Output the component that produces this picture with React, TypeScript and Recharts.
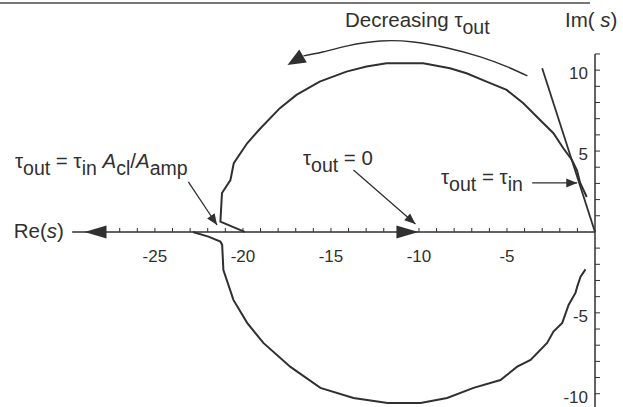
import React from 'react';
import { ComposedChart, Line, XAxis, YAxis, ReferenceLine, ReferenceDot } from 'recharts';

// Root-locus branches in the s-plane (Re, Im)
const upperRe = [-19.9, -21.28, -21.19, -20.71, -20.52, -19.76, -19.0, -17.9, -16.96, -15.64, -14.12, -12.98, -11.84, -9.76, -8.24, -7.3, -6.16, -5.02, -4.07, -3.12, -2.36, -1.8, -1.31, -1.03, -0.84, -0.47];
const upperIm = [0, 0.64, 2.41, 3.21, 4.25, 5.48, 6.41, 7.65, 8.47, 9.29, 9.91, 10.22, 10.43, 10.43, 10.12, 9.81, 9.29, 8.78, 7.95, 6.92, 6.1, 5.17, 4.45, 3.83, 3.03, 2.16];
const lowerRe = [-22.84, -21.96, -21.28, -21.18, -21.11, -20.54, -19.76, -18.84, -17.3, -15.6, -13.72, -11.78, -9.91, -8.4, -6.9, -5.37, -4.42, -3.66, -2.72, -2.36, -1.86, -1.5, -1.11, -1.01, -0.82, -0.54];
const lowerIm = [0, -0.29, -0.6, -0.8, -2.35, -4.2, -5.62, -6.86, -8.34, -9.64, -10.26, -10.57, -10.57, -10.26, -9.64, -9.15, -8.33, -7.91, -6.86, -6.16, -5.62, -4.51, -3.77, -3.38, -2.76, -2.31];
const asymRe = [0, -3.0];
const asymIm = [0, 10.12];

// "Decreasing tau_out" sweep
const sweepRe = [-16.56, -15.48, -14.06, -12.19, -10.31, -8.38, -6.51, -4.97, -3.84];
const sweepIm = [10.88, 11.12, 11.5, 11.8, 11.74, 11.37, 10.82, 10.2, 9.64];

const xMinorTicks = [-27, -26, -25, -24, -23, -22, -21, -20, -19, -18, -17, -16, -15, -14, -13, -12, -11, -10, -9, -8, -7, -6, -5, -4, -3, -2, -1];
const xTickLabels = [-25, -20, -15, -10, -5];
const yTicks = [-10, -9, -8, -7, -6, -5, -4, -3, -2, -1, 1, 2, 3, 4, 5, 6, 7, 8, 9, 10, 11];
const yTickLabels = [-10, -5, 5, 10];

const toPoints = (re: number[], im: number[]) => re.map((r, i) => ({ re: r, im: im[i] }));

const upperData = toPoints(upperRe, upperIm);
const lowerData = toPoints(lowerRe, lowerIm);
const asymData = toPoints(asymRe, asymIm);
const sweepData = toPoints(sweepRe, sweepIm);

const INK = '#303030';
const FONT = '"Liberation Sans", Arial, Helvetica, sans-serif';
const MAIN = 20.5;
const SUB = 19.5;
const DROP = 7.5;

type Seg = { t: string; sub?: boolean; it?: boolean };

const tau = (s: string): Seg[] => [{ t: 'τ' }, { t: s, sub: true }];

const labelSegs = {
  sweep: [{ t: 'Decreasing τ' }, { t: 'out', sub: true }] as Seg[],
  im: [{ t: 'Im( ' }, { t: 's', it: true }, { t: ')' }] as Seg[],
  re: [{ t: 'Re(' }, { t: 's', it: true }, { t: ')' }] as Seg[],
  ratio: [
    ...tau('out'), { t: ' = ' }, ...tau('in'), { t: ' ' },
    { t: 'A', it: true }, { t: 'cl', sub: true }, { t: '/' }, { t: 'A', it: true }, { t: 'amp', sub: true },
  ] as Seg[],
  zero: [...tau('out'), { t: ' = 0' }] as Seg[],
  equal: [...tau('out'), { t: ' = ' }, ...tau('in')] as Seg[],
};

const Arrowhead = ({ cx, cy, angle, len, half }: any) => {
  const a = (angle * Math.PI) / 180;
  const c = Math.cos(a);
  const s = Math.sin(a);
  const pt = (u: number, v: number) => `${cx + u * c - v * s},${cy + u * s + v * c}`;
  return <polygon points={`${pt(0, 0)} ${pt(-len, -half)} ${pt(-len, half)}`} fill={INK} />;
};

const arrow = (angle: number, len: number, half: number) => (p: any) => (
  <Arrowhead cx={p.cx} cy={p.cy} angle={angle} len={len} half={half} />
);

// text with lowered subscripts; baseline shifts are tracked between runs
const richText = (segs: Seg[], anchor: 'start' | 'end' = 'start') => (p: any) => {
  let level = 0;
  return (
    <text x={p.cx} y={p.cy} fill={INK} fontFamily={FONT} fontSize={MAIN} textAnchor={anchor}>
      {segs.map((s, i) => {
        const target = s.sub ? DROP : 0;
        const dy = target - level;
        level = target;
        return (
          <tspan key={i} dy={dy || undefined} fontSize={s.sub ? SUB : MAIN} fontStyle={s.it ? 'italic' : undefined}>
            {s.t}
          </tspan>
        );
      })}
    </text>
  );
};

const YTick = (props: any) => {
  const { x, y, payload } = props;
  if (!yTickLabels.includes(payload.value)) return <g />;
  return (
    <text x={x - 12} y={y + 9} fill={INK} fontFamily={FONT} fontSize={17} textAnchor="end">
      {payload.value}
    </text>
  );
};

export default function App() {
  return (
    <div style={{ position: 'fixed', left: 0, top: 0, width: 623, height: 407, background: '#fff' }}>
      <div style={{ position: 'absolute', left: 0, top: 2, width: 590, height: 2, background: '#777' }} />
      <ComposedChart width={623} height={407} margin={{ top: 20, right: 0, bottom: 0, left: 0 }}>
        <XAxis dataKey="re" type="number" domain={[-33.8, 0]} hide />
        <YAxis
          type="number"
          orientation="right"
          width={28}
          domain={[-10.82, 13.1]}
          ticks={yTicks}
          interval={0}
          axisLine={false}
          tickSize={5}
          tickMargin={0}
          tickLine={{ stroke: INK, strokeWidth: 1 }}
          tick={<YTick />}
        />

        {/* axes */}
        <ReferenceLine segment={[{ x: -29.7, y: 0 }, { x: 0, y: 0 }]} stroke={INK} strokeWidth={1.5} />
        <ReferenceLine segment={[{ x: 0, y: -10.82 }, { x: 0, y: 11 }]} stroke={INK} strokeWidth={1.5} />
        {xMinorTicks.map((t) => (
          <ReferenceDot
            key={`xt${t}`}
            x={t}
            y={0}
            r={0}
            shape={(p: any) => <line x1={p.cx} y1={p.cy - 4} x2={p.cx} y2={p.cy} stroke={INK} strokeWidth={1} />}
          />
        ))}
        {xTickLabels.map((t) => (
          <ReferenceDot
            key={`xl${t}`}
            x={t}
            y={0}
            r={0}
            shape={(p: any) => (
              <text x={p.cx} y={p.cy + 30} fill={INK} fontFamily={FONT} fontSize={17} textAnchor="middle">
                {t}
              </text>
            )}
          />
        ))}
        <ReferenceDot x={-29.0} y={0} r={0} shape={arrow(180, 22, 6.5)} />
        <ReferenceDot x={-10.03} y={0} r={0} shape={arrow(0, 22, 6.5)} />

        {/* leader arrows */}
        <ReferenceLine segment={[{ x: -23.1, y: 3.09 }, { x: -21.47, y: 0.43 }]} stroke={INK} strokeWidth={1.3} />
        <ReferenceDot x={-21.47} y={0.43} r={0} shape={arrow(56, 11, 4.5)} />
        <ReferenceLine segment={[{ x: -13.72, y: 3.83 }, { x: -10.2, y: 0.49 }]} stroke={INK} strokeWidth={1.3} />
        <ReferenceDot x={-10.2} y={0.49} r={0} shape={arrow(41, 11, 4.5)} />
        <ReferenceLine segment={[{ x: -3.57, y: 3.03 }, { x: -1.01, y: 3.03 }]} stroke={INK} strokeWidth={1.3} />
        <ReferenceDot x={-1.01} y={3.03} r={0} shape={arrow(0, 11, 4.5)} />
        <ReferenceDot x={-17.47} y={10.32} r={0} shape={arrow(150, 18, 7.5)} />

        {/* labels */}
        <ReferenceDot x={-14.2} y={12.67} r={0} shape={richText(labelSegs.sweep)} />
        <ReferenceDot x={-1.7} y={12.67} r={0} shape={richText(labelSegs.im)} />
        <ReferenceDot x={-30.17} y={-0.37} r={0} shape={richText(labelSegs.re, 'end')} />
        <ReferenceDot x={-32.95} y={3.96} r={0} shape={richText(labelSegs.ratio)} />
        <ReferenceDot x={-16.59} y={4.14} r={0} shape={richText(labelSegs.zero)} />
        <ReferenceDot x={-8.75} y={2.97} r={0} shape={richText(labelSegs.equal)} />

        <Line data={sweepData} dataKey="im" type="natural" stroke={INK} strokeWidth={1.4} dot={false} isAnimationActive={false} />
        <Line data={asymData} dataKey="im" type="linear" stroke={INK} strokeWidth={1.8} dot={false} isAnimationActive={false} />
        <Line data={upperData} dataKey="im" type="linear" stroke={INK} strokeWidth={2} dot={false} isAnimationActive={false} />
        <Line data={lowerData} dataKey="im" type="linear" stroke={INK} strokeWidth={2} dot={false} isAnimationActive={false} />
      </ComposedChart>
    </div>
  );
}
